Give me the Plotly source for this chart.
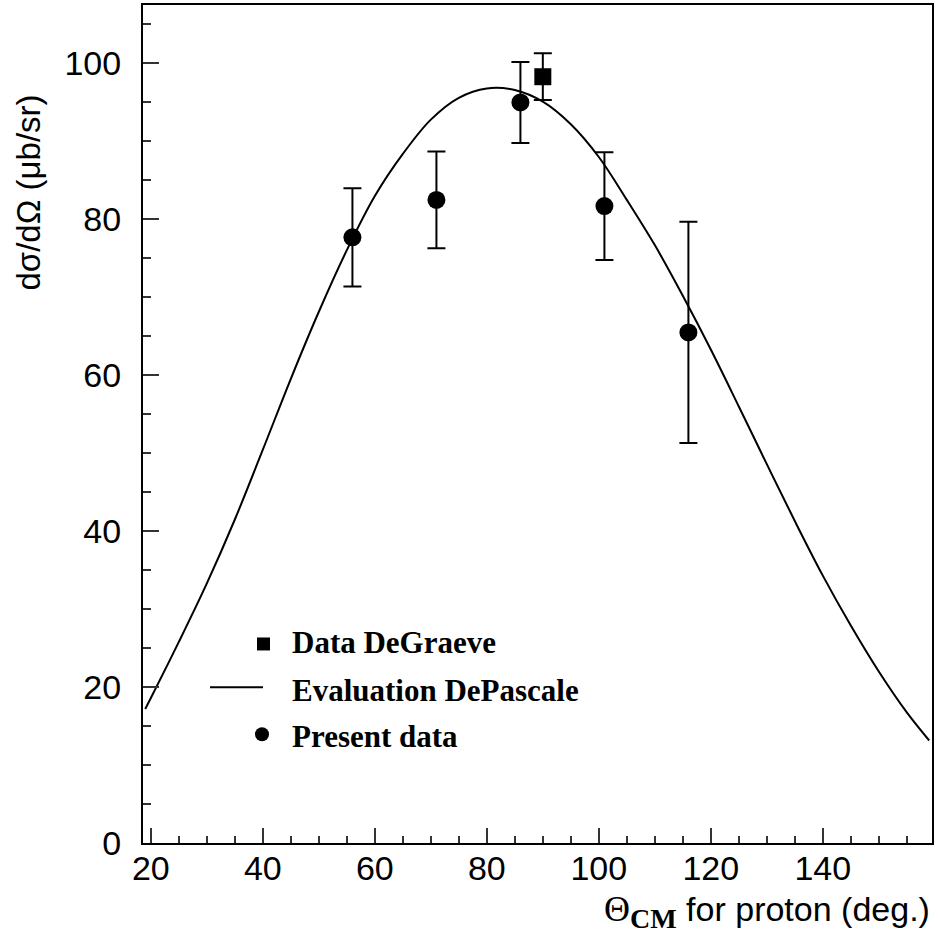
#!/usr/bin/env python3
"""Proton angular distribution: present data vs DeGraeve data and DePascale evaluation"""

import plotly.graph_objects as go

# Present data (circles)
present_theta = [56, 71, 86, 101, 116]
present_xs = [77.7, 82.5, 95.0, 81.7, 65.5]
present_err = [6.3, 6.2, 5.2, 6.9, 14.2]

# DeGraeve data (square)
degraeve_theta = [90]
degraeve_xs = [98.3]
degraeve_err = [3.0]

# DePascale evaluation (curve)
eval_theta = [19, 20, 25, 30, 35, 40, 45, 50, 55, 60, 65, 70, 75, 80, 85, 90,
              95, 100, 105, 110, 115, 120, 125, 130, 135, 140, 145, 150, 155, 159]
eval_xs = [17.2, 18.6, 25.8, 33.3, 41.5, 50.45, 59.55, 68.15, 76.05, 83.0, 88.4,
           92.8, 95.6, 96.8, 96.6, 95.1, 92.2, 88.0, 82.5, 76.7, 70.2, 63.3,
           56.0, 48.6, 41.3, 34.3, 27.9, 22.0, 16.75, 13.15]

legend_labels = ["Data DeGraeve", "Evaluation DePascale", "Present data"]

SANS = "Liberation Sans, Arial, sans-serif"
SERIF = "Liberation Serif, Times New Roman, serif"

fig = go.Figure()

fig.add_trace(go.Scatter(
    x=eval_theta, y=eval_xs,
    mode='lines',
    line=dict(color='black', width=2, shape='spline', smoothing=1.0),
    showlegend=False,
))

fig.add_trace(go.Scatter(
    x=present_theta, y=present_xs,
    mode='markers',
    marker=dict(symbol='circle', size=18, color='black'),
    error_y=dict(type='data', array=present_err, color='black', thickness=2, width=9),
    showlegend=False,
))

fig.add_trace(go.Scatter(
    x=degraeve_theta, y=degraeve_xs,
    mode='markers',
    marker=dict(symbol='square', size=17, color='black'),
    error_y=dict(type='data', array=degraeve_err, color='black', thickness=2, width=9),
    showlegend=False,
))

# 범례 (수동)
W, H = 938, 939
ML, MR, MT, MB = 143, 6, 3, 96
PW, PH = W - ML - MR, H - MT - MB


def px_x(px):
    return (px - ML) / PW


def px_y(py):
    return (H - MB - py) / PH


fig.add_shape(type='rect', xref='paper', yref='paper',
              x0=px_x(257), x1=px_x(270), y0=px_y(650), y1=px_y(637),
              fillcolor='black', line=dict(width=0))
fig.add_shape(type='line', xref='paper', yref='paper',
              x0=px_x(210), x1=px_x(263), y0=px_y(687), y1=px_y(687),
              line=dict(color='black', width=2))
fig.add_shape(type='circle', xref='paper', yref='paper',
              x0=px_x(255), x1=px_x(269), y0=px_y(741), y1=px_y(727),
              fillcolor='black', line=dict(width=0))

for label, cy in zip(legend_labels, [642, 690, 736]):
    fig.add_annotation(
        x=px_x(290), y=px_y(cy), xref='paper', yref='paper',
        text=f"<b>{label}</b>", showarrow=False,
        xanchor='left', yanchor='middle',
        font=dict(family=SERIF, size=31, color='black'),
    )

# 축 제목
fig.add_annotation(
    x=px_x(29), y=px_y(191), xref='paper', yref='paper',
    text="dσ/dΩ (μb/sr)", textangle=-90, showarrow=False,
    xanchor='center', yanchor='middle',
    font=dict(family=SANS, size=33, color='black'),
)
fig.add_annotation(
    x=px_x(932), y=px_y(912), xref='paper', yref='paper',
    text=(f"<span style='font-family:{SERIF};font-size:36px'>Θ</span>"
          f"<sub><span style='font-family:{SERIF};font-weight:bold;font-size:28px'>CM</span></sub>"
          " for proton (deg.)"),
    showarrow=False, xanchor='right', yanchor='middle',
    font=dict(family=SANS, size=34, color='black'),
)

axis_common = dict(
    showgrid=False, zeroline=False,
    showline=True, linecolor='black', linewidth=2, mirror=True,
    ticks='inside', tickcolor='#333333', tickwidth=1.5,
    tickfont=dict(family=SANS, size=34, color='black'),
)

fig.update_layout(
    width=W, height=H,
    margin=dict(l=ML, r=MR, t=MT, b=MB),
    plot_bgcolor='white', paper_bgcolor='white',
    showlegend=False,
    xaxis=dict(
        range=[18.6, 159.5], tick0=0, dtick=20, ticklen=15,
        minor=dict(dtick=5, ticks='inside', ticklen=7, tickcolor='#333333', tickwidth=1.5),
        ticklabelstandoff=-6,
        **axis_common,
    ),
    yaxis=dict(
        range=[0, 107.5], tick0=0, dtick=20, ticklen=16,
        minor=dict(dtick=5, ticks='inside', ticklen=8, tickcolor='#333333', tickwidth=1.5),
        ticklabelstandoff=13,
        **axis_common,
    ),
)

fig.write_html("out.html", config={'displayModeBar': False},
               post_script="document.body.style.margin='0px';")
